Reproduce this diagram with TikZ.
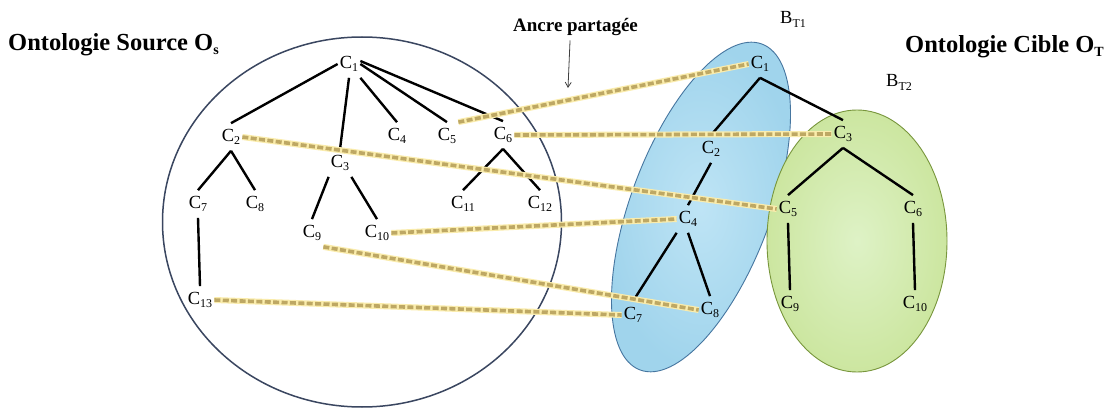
\documentclass[tikz,border=0pt]{standalone}
\usepackage{fontspec}
\setmainfont{Liberation Serif}
\usetikzlibrary{arrows.meta}
\definecolor{circc}{RGB}{58,70,96}
\definecolor{bluein}{RGB}{190,228,245}
\definecolor{blueout}{RGB}{160,212,236}
\definecolor{blueedge}{RGB}{70,118,160}
\definecolor{greenin}{RGB}{222,242,198}
\definecolor{greenout}{RGB}{204,230,160}
\definecolor{greenedge}{RGB}{120,150,60}
\definecolor{mapc}{RGB}{190,168,100}
\definecolor{glowc}{RGB}{250,236,172}
\newcommand\cname[1]{C\raisebox{-3pt}{\fontsize{12}{12}\selectfont #1}}
\newcommand\subtxt[2]{\raisebox{-4pt}{\fontsize{#1}{#1}\selectfont #2}}
\begin{document}
\begin{tikzpicture}[x=1pt,y=-1pt,
  lab/.style={font=\fontsize{18.5}{18.5}\selectfont, inner xsep=2pt, inner ysep=6pt},
  tree/.style={line width=2.4pt, black},
  map/.style={draw=mapc, line width=3.6pt, dash pattern=on 6pt off 2.4pt,
    preaction={draw=glowc, line width=6pt, solid}},
  title/.style={font=\bfseries\fontsize{24.5}{24.5}\selectfont, inner sep=0pt, anchor=base west},
  blab/.style={font=\fontsize{18.5}{18.5}\selectfont, inner sep=0pt, anchor=base west}]
\fill[white] (0,0) rectangle (1112,409);
\useasboundingbox (0,0) rectangle (1112,409);

% containers
\draw[circc, line width=1.5pt] (362,222) ellipse [x radius=199.5pt, y radius=185pt];
\shadedraw[inner color=bluein, outer color=blueout, draw=blueedge, line width=0.9pt,
  shift={(701,207)}, rotate=69.5] (0,0) ellipse [x radius=174pt, y radius=70pt];
\shadedraw[inner color=greenin, outer color=greenout, draw=greenedge, line width=0.9pt]
  (857,241) ellipse [x radius=90pt, y radius=131pt];

% titles
\node[title] (srcT) at (8,51) {Ontologie Source O\subtxt{14}{s}};
\node[title] (tgtT) at (905,53) {Ontologie Cible O\subtxt{14}{T}};
\node[blab] (bt1) at (780,24) {B\subtxt{12}{T1}};
\node[blab] (bt2) at (886,87) {B\subtxt{12}{T2}};
\node[font=\bfseries\fontsize{19}{19}\selectfont, inner sep=0pt, anchor=base west] (ancre) at (513,32) {Ancre partagée};
\coordinate (ancreTip) at (568,88);
\draw[-{Straight Barb[length=5pt,width=6pt]}, black!75, line width=0.8pt]
  ([xshift=-5.5pt,yshift=-4pt]ancre.south) -- (ancreTip);

% source nodes
\node[lab] (s1) at (349,64) {\cname{1}};
\node[lab] (s2) at (231,137) {\cname{2}};
\node[lab] (s3) at (340,163) {\cname{3}};
\node[lab] (s4) at (397,136) {\cname{4}};
\node[lab] (s5) at (447,136) {\cname{5}};
\node[lab] (s6) at (503,135) {\cname{6}};
\node[lab] (s7) at (198,204) {\cname{7}};
\node[lab] (s8) at (255,204) {\cname{8}};
\node[lab] (s9) at (312,233) {\cname{9}};
\node[lab] (s10) at (377,233) {\cname{10}};
\node[lab] (s11) at (463,204) {\cname{11}};
\node[lab] (s12) at (540,204) {\cname{12}};
\node[lab] (s13) at (200,300) {\cname{13}};

% target nodes
\node[lab] (t1) at (760,64) {\cname{1}};
\node[lab] (t2) at (711,149) {\cname{2}};
\node[lab] (t3) at (843,134) {\cname{3}};
\node[lab] (t4) at (688,219) {\cname{4}};
\node[lab] (t5) at (788,209) {\cname{5}};
\node[lab] (t6) at (913,209) {\cname{6}};
\node[lab] (t7) at (633,315) {\cname{7}};
\node[lab] (t8) at (710,310) {\cname{8}};
\node[lab] (t9) at (790,304) {\cname{9}};
\node[lab] (t10) at (915,304) {\cname{10}};

% source tree
\draw[tree] (s1.west) -- (s2.north);
\draw[tree] (s1.south) -- (s3.north);
\draw[tree] (s1.south east) -- (s4.north);
\draw[tree] (s1.east) -- (s5.north);
\draw[tree] ([yshift=3pt]s1.east) -- (s6.north);
\draw[tree] (s2.south) -- (s7.north);
\draw[tree] (s2.south) -- (s8.north);
\draw[tree] (s3.south west) -- (s9.north);
\draw[tree] (s3.south east) -- (s10.north);
\draw[tree] (s6.south) -- (s11.north);
\draw[tree] (s6.south) -- (s12.north);
\draw[tree] (s7.south) -- (s13.north);

% target tree
\draw[tree] (t1.south) -- (t2.north);
\draw[tree] (t1.south) -- (t3.north);
\draw[tree] (t2.south) -- (t4.north);
\draw[tree] (t4.south west) -- (t7.north);
\draw[tree] (t4.south) -- (t8.north);
\draw[tree] (t3.south) -- (t5.north);
\draw[tree] (t3.south) -- (t6.north);
\draw[tree] (t5.south) -- (t9.north);
\draw[tree] (t6.south) -- (t10.north);

% mappings
\draw[map] (s5.north east) -- (t1.west);
\draw[map] (s6.east) -- (t3.west);
\draw[map] (s2.east) -- (t5.west);
\draw[map] (s10.east) -- (t4.west);
\draw[map] (s9.south east) -- (t8.west);
\draw[map] (s13.east) -- (t7.west);
\end{tikzpicture}
\end{document}
